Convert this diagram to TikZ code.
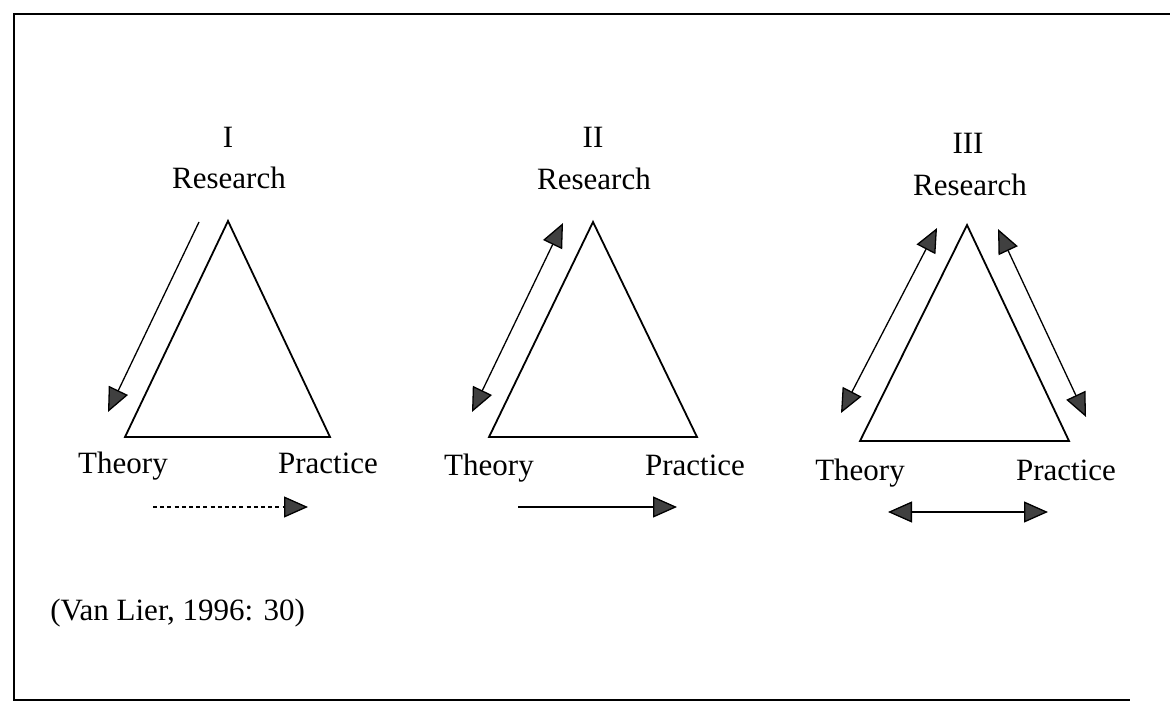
\documentclass[tikz,border=0pt]{standalone}
\usepackage{fontspec}
\setmainfont{Liberation Serif}
\usetikzlibrary{arrows.meta}

\begin{document}
\begin{tikzpicture}[
  x=0.5pt, y=-0.5pt,
  font=\fontsize{15.5}{18}\selectfont,
  txt/.style={inner sep=0pt, anchor=base},
  side/.style={line width=0.9pt},
  frame/.style={line width=1.2pt},
  tip/.tip={Triangle[length=12pt, width=10.5pt, fill=black!75]},
  oneway/.style={-tip, line width=0.65pt},
  twoway/.style={tip-tip, line width=0.65pt},
  dotway/.style={oneway, dash pattern=on 2pt off 1.6pt}
]
\useasboundingbox (0,0) rectangle (1170,711);

% frame, open on the right
\coordinate (ftr) at (1170,14);
\coordinate (ftl) at (14,14);
\coordinate (fbl) at (14,700);
\coordinate (fbr) at (1130,700);
\draw[frame] (ftr) -- (ftl) -- (fbl) -- (fbr);

% I
\node[txt] (n1) at (228,148) {I};
\node[txt] (res1) at (229,189) {Research};
\node[txt] (the1) at (123,473) {Theory};
\node[txt] (pra1) at (328,473) {Practice};
\coordinate (r1) at (228,221);
\coordinate (t1) at (125,437);
\coordinate (p1) at (330,437);
\draw[side] (r1) -- (t1) -- (p1) -- cycle;
\coordinate (a1s) at (199,222);
\coordinate (a1e) at (108,412);
\draw[oneway] (a1s) -- (a1e);
\coordinate (h1s) at (153,507);
\coordinate (h1e) at (308,507);
\draw[dotway] (h1s) -- (h1e);

% II
\node[txt] (n2) at (593,148) {II};
\node[txt] (res2) at (594,190) {Research};
\node[txt] (the2) at (489,475) {Theory};
\node[txt] (pra2) at (695,475) {Practice};
\coordinate (r2) at (593,222);
\coordinate (t2) at (489,437);
\coordinate (p2) at (697,437);
\draw[side] (r2) -- (t2) -- (p2) -- cycle;
\coordinate (a2s) at (563,223);
\coordinate (a2e) at (472,412);
\draw[twoway] (a2s) -- (a2e);
\coordinate (h2s) at (518,507);
\coordinate (h2e) at (677,507);
\draw[oneway] (h2s) -- (h2e);

% III
\node[txt] (n3) at (968,154) {III};
\node[txt] (res3) at (970,195) {Research};
\node[txt] (the3) at (860,480) {Theory};
\node[txt] (pra3) at (1066,480) {Practice};
\coordinate (r3) at (967,225);
\coordinate (t3) at (860,441);
\coordinate (p3) at (1069,441);
\draw[side] (r3) -- (t3) -- (p3) -- cycle;
\coordinate (a3s) at (937,228);
\coordinate (a3e) at (841,413);
\draw[twoway] (a3s) -- (a3e);
\coordinate (b3s) at (998,229);
\coordinate (b3e) at (1086,417);
\draw[twoway] (b3s) -- (b3e);
\coordinate (h3s) at (888,512);
\coordinate (h3e) at (1048,512);
\draw[twoway] (h3s) -- (h3e);

\node[txt, anchor=base west] (cite) at (50,620) {(Van Lier, 1996: 30)};

\end{tikzpicture}
\end{document}
